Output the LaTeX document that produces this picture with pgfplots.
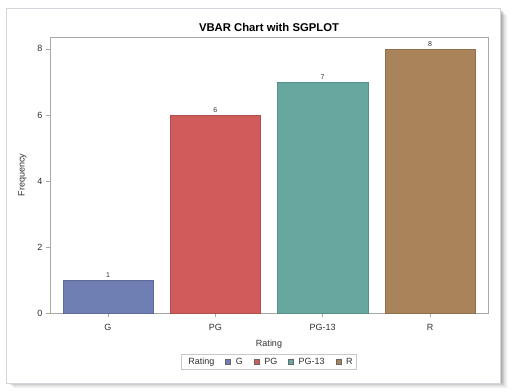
\documentclass[border=0pt]{standalone}
\usepackage{pgfplots}
\pgfplotsset{compat=1.18}
\usepackage{fontspec}
\setmainfont{Liberation Sans}
\definecolor{cG}{HTML}{6F7EB3}
\definecolor{cPG}{HTML}{D05B5B}
\definecolor{cPT}{HTML}{66A8A0}
\definecolor{cR}{HTML}{A9845A}
\definecolor{axgray}{HTML}{A8A8A8}
\definecolor{txt}{HTML}{303030}
\definecolor{frame}{HTML}{D4D6DE}
\begin{document}
\begin{tikzpicture}
\path[use as bounding box] (0pt,0pt) rectangle (514pt,391pt);
% shadow
\foreach \d/\o in {1/0.10,2/0.09,3/0.08,4/0.07,5/0.05,6/0.04,7/0.03,8/0.02}{
  \fill[black,opacity=\o] (6pt+\d pt,8pt-\d pt+2pt) rectangle (500pt+\d pt,383pt-\d pt);
}
\fill[white] (6pt,8pt) rectangle (500pt,383pt);
\draw[draw=frame, line width=0.8pt] (6pt,8pt) rectangle (500pt,383pt);
\begin{axis}[
  at={(50pt,78pt)}, anchor=south west,
  scale only axis, width=438pt, height=276pt,
  xmin=-0.54, xmax=3.54, ymin=0, ymax=8.36,
  ybar, bar width=0.84, bar shift=0pt,
  xtick={0,1,2,3}, xticklabels={G,PG,PG-13,R},
  ytick={0,2,4,6,8},
  tick align=outside, tick pos=left,
  major tick length=4pt,
  axis line style={axgray}, every tick/.style={axgray},
  tick label style={font=\fontsize{9}{11}\selectfont, text=txt},
  xticklabel style={yshift=-4pt},
  /pgf/number format/assume math mode=true,
  xlabel={Rating}, ylabel={Frequency},
  label style={font=\fontsize{9}{11}\selectfont, text=txt},
  xlabel style={yshift=-2pt},
  ylabel style={yshift=4pt},
  title={VBAR Chart with SGPLOT},
  title style={font=\bfseries\fontsize{11.3}{13}\selectfont, yshift=-4pt},
  nodes near coords,
  every node near coord/.append style={font=\fontsize{7}{8}\selectfont, text=txt, yshift=-1pt},
  legend columns=-1,
  legend style={at={(0.5,-0.1775)}, anchor=center, draw={rgb,255:red,200;green,200;blue,200},
    font=\fontsize{9}{11}\selectfont, text=txt, inner ysep=1.5pt, inner xsep=2pt,
    /tikz/every even column/.append style={column sep=9pt},
    /tikz/every odd column/.append style={column sep=3pt}},
  legend image code/.code={\draw[#1,draw=black!60] (0pt,-2.5pt) rectangle (5pt,2.5pt);},
]
\addlegendimage{empty legend}
\addlegendentry{Rating}
\addplot[fill=cG, draw=cG!85!black] coordinates {(0,1)};
\addlegendentry{G}
\addplot[fill=cPG, draw=cPG!85!black] coordinates {(1,6)};
\addlegendentry{PG}
\addplot[fill=cPT, draw=cPT!85!black] coordinates {(2,7)};
\addlegendentry{PG-13}
\addplot[fill=cR, draw=cR!85!black] coordinates {(3,8)};
\addlegendentry{R}
\end{axis}
\end{tikzpicture}
\end{document}
